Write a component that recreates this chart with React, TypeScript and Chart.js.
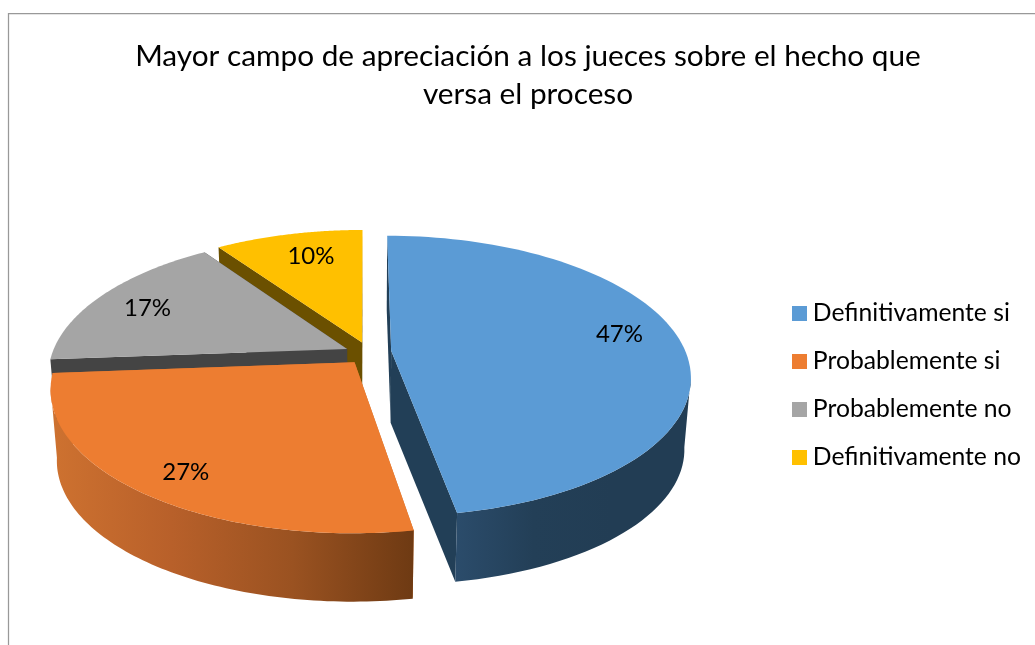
import React, { useEffect, useRef } from "react";
import { Chart, registerables } from "chart.js";

Chart.register(...registerables);

const titleLines = ["Mayor campo de apreciación a los jueces sobre el hecho que", "versa el proceso"];
const categories = ["Definitivamente si", "Probablemente si", "Probablemente no", "Definitivamente no"];
const percentages = [47.3, 26.5, 16.6, 9.6];
const topColors = ["#5B9BD5", "#ED7D31", "#A5A5A5", "#FFC000"];

// 3D look of the pie
const sliceOffsets = [[0.089, -0.01], [-0.035, 0.075], [-0.061, -0.022], [-0.01, -0.07]];
const wallColors = ["#223F57", "#CE7230", "#444444", "#6B5000"];
const rimStops: string[][] = [
  ["#2B4C6B", "#233F57", "#223D54", "#223D54"],
  ["#CE7230", "#B8602A", "#9A5221", "#6E3A13"],
  ["#636363", "#636363", "#636363", "#636363"],
  ["#997300", "#997300", "#997300", "#997300"],
];
const labelNudges = [[20, -8], [-20, 21], [-20, -1], [4, -5]];

const CX = 365, CY = 352, A = 294.5, B = 136, P = 0.18, DEPTH = 72, SHRINK = 0.98;

function project(u: number, v: number, low: boolean): [number, number] {
  const w = 1 - P * v;
  const k = low ? SHRINK : 1;
  return [CX + (A * k * u) / w, CY + (low ? DEPTH : 0) + (B * k * v) / w];
}

const pie3d = {
  id: "pie3d",
  beforeDraw(chart: any) {
    const c = chart.ctx;
    c.save();
    c.fillStyle = "#fff";
    c.fillRect(0, 0, chart.width, chart.height);
    c.strokeStyle = "#999999";
    c.lineWidth = 1.25;
    c.beginPath();
    c.moveTo(8.5, chart.height);
    c.lineTo(8.5, 13.5);
    c.lineTo(chart.width, 13.5);
    c.stroke();
    c.restore();
  },
  beforeDatasetDraw() {
    return false;
  },
  afterDatasetsDraw(chart: any) {
    const c = chart.ctx;
    const arcs = chart.getDatasetMeta(0).data;
    const order = [3, 2, 1, 0];
    c.save();
    for (const i of order) {
      const { startAngle, endAngle } = arcs[i];
      const [ou, ov] = sliceOffsets[i];
      const angles: number[] = [];
      const N = 90;
      for (let s = 0; s <= N; s++) angles.push(startAngle + ((endAngle - startAngle) * s) / N);
      const poly = (pts: [number, number][], fill: any) => {
        c.beginPath();
        pts.forEach((p, k) => (k ? c.lineTo(p[0], p[1]) : c.moveTo(p[0], p[1])));
        c.closePath();
        c.fillStyle = fill;
        c.fill();
      };
      const at = project(ou, ov, false), al = project(ou, ov, true);
      const pt = (t: number, low: boolean) => project(ou + Math.cos(t), ov + Math.sin(t), low);
      const top = angles.map((t) => pt(t, false));
      poly([at, top[0], pt(angles[0], true), al], wallColors[i]);
      poly([at, top[N], pt(angles[N], true), al], wallColors[i]);
      const front = angles.filter((t) => Math.sin(t) > 0.15);
      if (front.length > 1) {
        const ft = front.map((t) => pt(t, false));
        const fl = front.map((t) => pt(t, true));
        const xs = ft.concat(fl).map((p) => p[0]);
        const g = c.createLinearGradient(Math.min(...xs), 0, Math.max(...xs), 0);
        rimStops[i].forEach((col, k) => g.addColorStop(k / 3, col));
        poly(ft.concat(fl.slice().reverse()), g);
      }
      poly([at, ...top], topColors[i]);
    }
    c.fillStyle = "#000";
    c.font = "24px Lato";
    c.textAlign = "center";
    c.textBaseline = "middle";
    arcs.forEach((arc: any, i: number) => {
      const mid = (arc.startAngle + arc.endAngle) / 2;
      const r = 0.72;
      const [x, y] = project(sliceOffsets[i][0] + r * Math.cos(mid), sliceOffsets[i][1] + r * Math.sin(mid), false);
      c.fillText(Math.round(percentages[i]) + "%", x + labelNudges[i][0], y + labelNudges[i][1]);
    });
    c.restore();
  },
  afterDraw(chart: any) {
    const c = chart.ctx;
    const boxes = chart.legend.legendHitBoxes;
    c.save();
    boxes.forEach((b: any, i: number) => {
      c.fillStyle = "#fff";
      c.fillRect(b.left - 1, b.top, 13, b.height);
      c.fillStyle = topColors[i];
      c.fillRect(Math.round(b.left + 1.5), Math.round(b.top + (b.height - 15) / 2), 15, 15);
    });
    c.restore();
  },
};

export default function App() {
  const ref = useRef<HTMLCanvasElement>(null);
  useEffect(() => {
    const chart = new Chart(ref.current!, {
      type: "pie",
      data: {
        labels: categories,
        datasets: [{ data: percentages, backgroundColor: topColors, borderWidth: 0 }],
      },
      options: {
        responsive: false,
        animation: false,
        layout: { padding: { left: 25, right: 4, top: 37, bottom: 152 } },
        plugins: {
          tooltip: { enabled: false },
          title: {
            display: true,
            text: titleLines,
            color: "#000",
            font: { family: "Lato", size: 29.75, weight: "normal", lineHeight: 1.28 },
            padding: { top: 0, bottom: 10 },
          },
          legend: {
            position: "right",
            align: "end",
            labels: {
              color: "#000",
              boxWidth: 10,
              boxHeight: 15,
              padding: 23.3,
              font: { family: "Lato", size: 24.7 },
            },
          },
        },
      },
      plugins: [pie3d],
    } as any);
    return () => chart.destroy();
  }, []);
  return (
    <canvas
      ref={ref}
      width={1035}
      height={645}
      style={{ position: "absolute", left: 0, top: 0, width: 1035, height: 645 }}
    />
  );
}
